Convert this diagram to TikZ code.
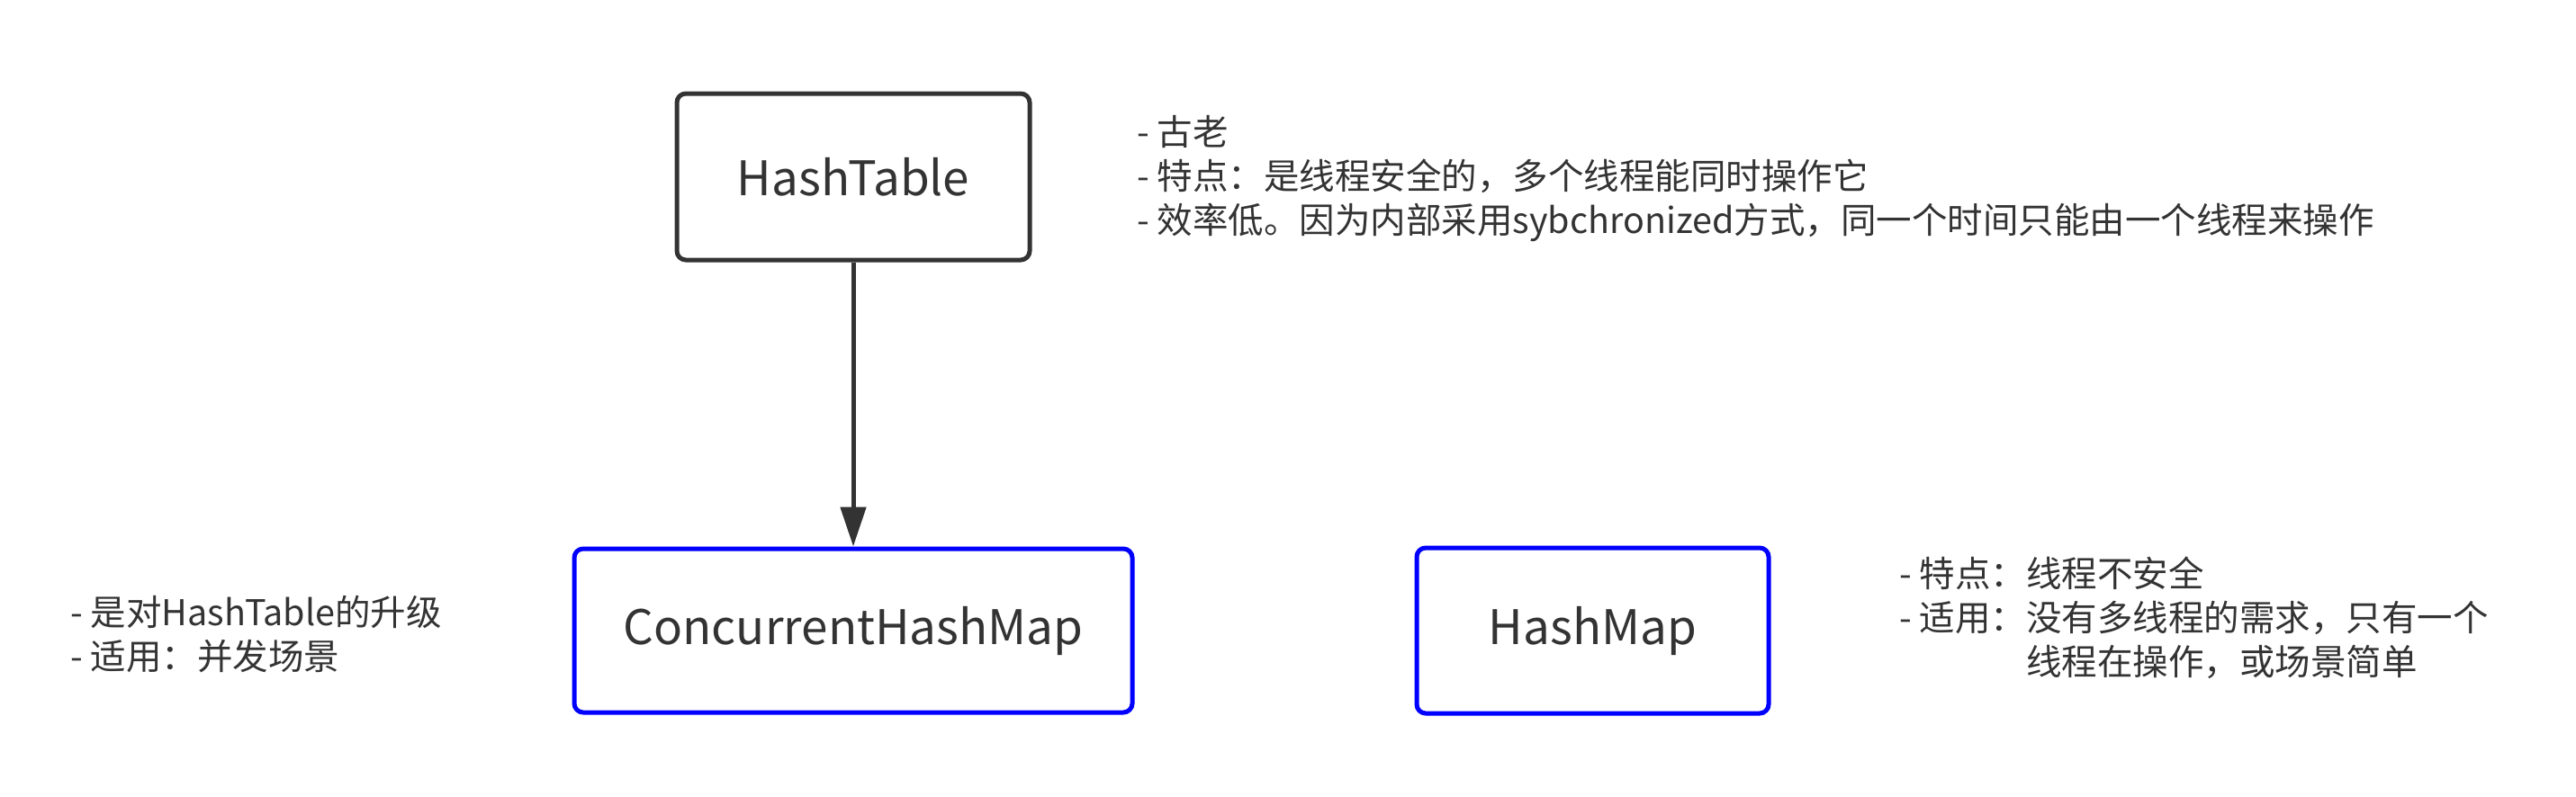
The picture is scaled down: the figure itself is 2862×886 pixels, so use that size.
\documentclass[tikz,border=0pt]{standalone}
\usepackage{fontspec}
\setmainfont{Noto Sans CJK SC}
\usetikzlibrary{arrows.meta}
\definecolor{ink}{HTML}{333333}
\definecolor{bluebox}{HTML}{0000FF}
\tikzset{
  nodebox/.style={draw=ink, line width=5pt, rounded corners=10pt, fill=white,
    text=ink, font=\fontsize{53}{60}\selectfont, inner sep=0pt},
  bluenode/.style={nodebox, draw=bluebox},
  note/.style={text=ink, font=\fontsize{39.5}{49}\selectfont, align=left, anchor=west, inner sep=0pt},
  link/.style={draw=ink, line width=5pt, -{Triangle[length=44pt,width=28pt]}}
}
\begin{document}
\begin{tikzpicture}[x=1pt,y=-1pt]
\useasboundingbox[fill=white] (0,0) rectangle (2862,886);
\node[nodebox, minimum width=392pt, minimum height=185pt] (ht) at (948,196.5) {HashTable};
\node[bluenode, minimum width=620pt, minimum height=182pt] (chm) at (948,701) {ConcurrentHashMap};
\node[bluenode, minimum width=391pt, minimum height=184pt] (hm) at (1769.5,701) {HashMap};
\draw[link] (ht.south) -- (chm.north);
\node[note] (n1) at (1263,199) {- 古老\\- 特点：是线程安全的，多个线程能同时操作它\\- 效率低。因为内部采用sybchronized方式，同一个时间只能由一个线程来操作};
\node[note] (n2) at (78,705) {- 是对HashTable的升级\\- 适用：并发场景};
\node[note] (n3) at (2110,687) {- 特点：线程不安全\\- 适用：没有多线程的需求，只有一个\\\phantom{- 适用：}线程在操作，或场景简单};
\end{tikzpicture}
\end{document}
